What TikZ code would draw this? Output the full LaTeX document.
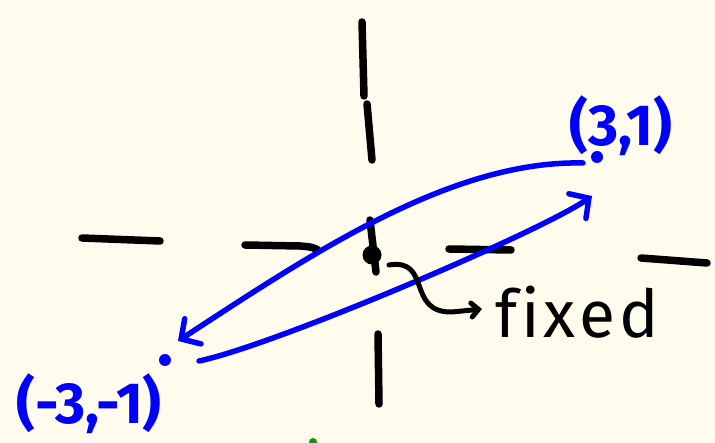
\documentclass[tikz,border=0pt]{standalone}
\usepackage{fontspec}
\setmainfont{Fira Sans}
\usetikzlibrary{arrows.meta}
\definecolor{paper}{HTML}{FFFCEE}
\definecolor{speck}{HTML}{00A000}
\begin{document}
\begin{tikzpicture}[x=1pt,y=-1pt,
    axis/.style={line width=7.5pt, line cap=round},
    swing/.style={blue, line width=5.5pt, line cap=round,
      -{Straight Barb[length=14pt, width=30pt, line cap=round]}},
    pointer/.style={line width=5pt, line cap=round,
      -{Straight Barb[length=7pt, width=14pt, line cap=round]}},
    coord/.style={blue, inner sep=0pt, font=\fontsize{58}{64}\selectfont\bfseries},
    dot/.style={circle, fill, inner sep=0pt, minimum size=#1}]
  \fill[paper] (0,0) rectangle (715,443);
  \useasboundingbox (0,0) rectangle (715,443);

  % hand drawn axes
  \draw[axis] (362,22) -- (364,96);
  \draw[axis] (367,104) -- (372,160);
  \draw[axis] (370,220) -- (376,272);
  \draw[axis] (378,334) -- (379,404);
  \draw[axis] (82,238) -- (160,241);
  \draw[axis] (245,245) -- (300,246) .. controls (312,247) .. (318,250);
  \draw[axis] (449,249) -- (511,250);
  \draw[axis] (641,258) -- (707,263);
  \node[dot=19pt] (origin) at (372,255) {};

  % the two points
  \node[dot=12pt, blue] (p31) at (597,157) {};
  \node[dot=12pt, blue] (m31) at (165,360) {};
  \node[coord] (p31lbl) at (621,126) {(3,1)};
  \node[coord] (m31lbl) at (89,404) {(-3,-1)};

  % swapping arrows
  \coordinate (upstart) at (583,163);
  \coordinate (uptip) at (178,341);
  \coordinate (lowstart) at (199,361);
  \coordinate (lowtip) at (592,196);
  \draw[swing] (upstart) .. controls (450,160) and (310,255) .. (uptip);
  \draw[swing] (lowstart) .. controls (275,345) and (540,232) .. (lowtip);

  % fixed label
  \node[anchor=base west, inner sep=0pt,
    font=\fontsize{66}{72}\selectfont\addfontfeatures{LetterSpace=6,Ligatures=NoCommon}]
    (fixedlbl) at (495,338) {fixed};
  \coordinate (fixstart) at (389,265);
  \coordinate (fixtip) at (482,309);
  \draw[pointer] (fixstart) .. controls (432,258) and (406,313) .. (452,312) -- (fixtip);

  \node[dot=8pt, speck] (speck) at (313,442) {};
\end{tikzpicture}
\end{document}
